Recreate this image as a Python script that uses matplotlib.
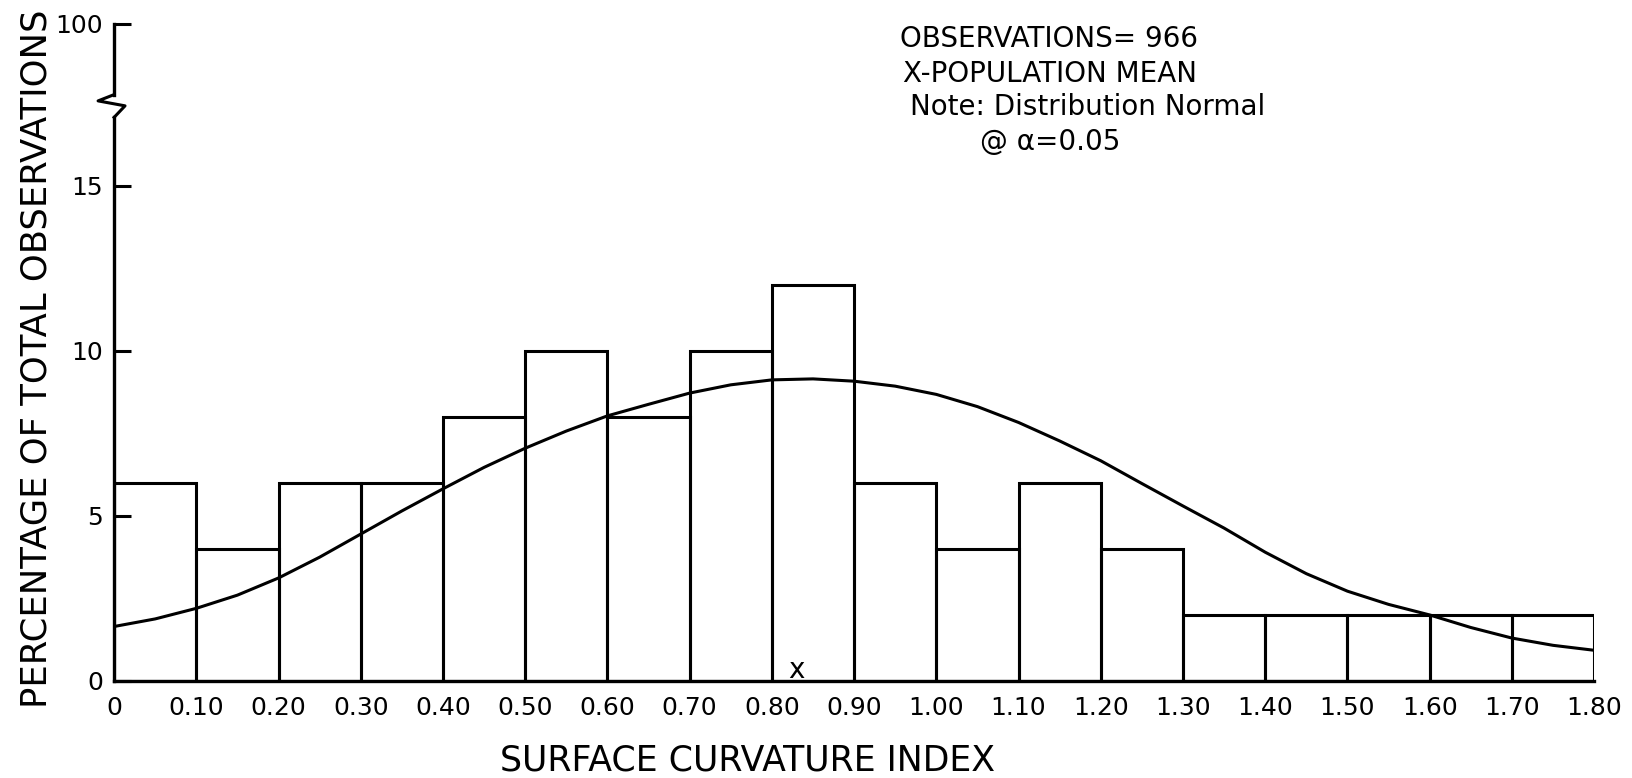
import matplotlib
matplotlib.use("Agg")
import matplotlib.pyplot as plt
import matplotlib.transforms as mtransforms

# histogram: surface curvature index bins (width 0.10) and percentage of observations
bin_left = [0.0, 0.1, 0.2, 0.3, 0.4, 0.5, 0.6, 0.7, 0.8, 0.9,
            1.0, 1.1, 1.2, 1.3, 1.4, 1.5, 1.6, 1.7]
bin_pct = [6, 4, 6, 6, 8, 10, 8, 10, 12, 6,
           4, 6, 4, 2, 2, 2, 2, 2]

# fitted normal curve
curve_x = [0.00, 0.05, 0.10, 0.15, 0.20, 0.25, 0.30, 0.35, 0.40, 0.45,
           0.50, 0.55, 0.60, 0.65, 0.70, 0.75, 0.80, 0.85, 0.90, 0.95,
           1.00, 1.05, 1.10, 1.15, 1.20, 1.25, 1.30, 1.35, 1.40, 1.45,
           1.50, 1.55, 1.60, 1.65, 1.70, 1.75, 1.80]
curve_y = [1.65, 1.88, 2.20, 2.60, 3.12, 3.75, 4.45, 5.15, 5.82, 6.47,
           7.05, 7.57, 8.03, 8.38, 8.72, 8.97, 9.12, 9.15, 9.08, 8.93,
           8.68, 8.31, 7.83, 7.27, 6.67, 5.98, 5.30, 4.63, 3.90, 3.25,
           2.72, 2.32, 2.00, 1.62, 1.30, 1.08, 0.93]

mean_x = 0.83

x_ticks = [0, 0.1, 0.2, 0.3, 0.4, 0.5, 0.6, 0.7, 0.8, 0.9,
           1.0, 1.1, 1.2, 1.3, 1.4, 1.5, 1.6, 1.7, 1.8]
x_tick_labels = ["0", "0.10", "0.20", "0.30", "0.40", "0.50", "0.60", "0.70", "0.80", "0.90",
                 "1.00", "1.10", "1.20", "1.30", "1.40", "1.50", "1.60", "1.70", "1.80"]
y_ticks = [0, 5, 10, 15, 19.9]
y_tick_labels = ["0", "5", "10", "15", "100"]
y_break = (17.07, 17.76)

notes = ["OBSERVATIONS= 966", "X-POPULATION MEAN", "Note: Distribution Normal", "@ α=0.05"]

plt.rcParams['font.family'] = ['DejaVu Sans']

fig = plt.figure(figsize=(16.32, 7.78), dpi=100)
ax = fig.add_axes([0.0699, 0.1247, 0.9069, 0.8445])

ax.bar(bin_left, bin_pct, width=0.1, align='edge', fill=False,
       edgecolor='black', linewidth=2.2)
ax.plot(curve_x, curve_y, color='black', linewidth=2.2)
ax.text(mean_x, -0.1, "x", ha='center', va='bottom', fontsize=20)

ax.set_xlim(0, 1.8)
ax.set_ylim(0, y_ticks[-1])

for side in ['top', 'right', 'left']:
    ax.spines[side].set_visible(False)
ax.spines['bottom'].set_linewidth(2.4)

# left axis drawn by hand so it can carry the break symbol
trans = mtransforms.blended_transform_factory(ax.transAxes, ax.transData)
ax.plot([0, 0], [0, y_break[0]], color='black', lw=2.4, transform=trans, clip_on=False)
ax.plot([0, -0.0108, 0.0074, 0],
        [y_break[1], 17.57, 17.42, y_break[0]],
        color='black', lw=2.2, transform=trans, clip_on=False)
ax.plot([0, 0], [y_break[1], y_ticks[-1]], color='black', lw=2.4, transform=trans, clip_on=False)

ax.set_xticks(x_ticks)
ax.set_xticklabels(x_tick_labels, fontsize=18)
ax.tick_params(axis='x', length=0, pad=11)
ax.set_yticks(y_ticks)
ax.set_yticklabels(y_tick_labels, fontsize=18)
ax.tick_params(axis='y', direction='in', length=12, width=2.2, pad=8)

ax.set_xlabel("SURFACE CURVATURE INDEX", fontsize=25)
ax.xaxis.set_label_coords(0.428, -0.095)
ax.set_ylabel("PERCENTAGE OF TOTAL OBSERVATIONS", fontsize=25.5)
ax.yaxis.set_label_coords(-0.041, 0.49)

note_x = [0.5515, 0.5533, 0.5576, 0.6005]
note_y = [0.9396, 0.8946, 0.8522, 0.8072]
for txt, xx, yy in zip(notes, note_x, note_y):
    fig.text(xx, yy, txt, fontsize=20, va='baseline', ha='left')

fig.savefig("out.png", dpi=100)
